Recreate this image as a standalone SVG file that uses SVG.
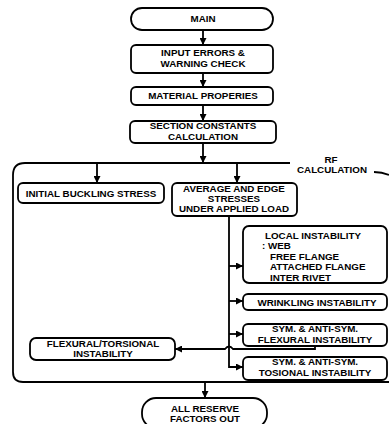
<svg xmlns="http://www.w3.org/2000/svg" width="389" height="424" viewBox="0 0 389 424">
<defs>
<marker id="ah" viewBox="0 0 10 10" refX="10" refY="5" markerWidth="7" markerHeight="7" markerUnits="userSpaceOnUse" orient="auto">
<path d="M0,0 L10,5 L0,10 Z" fill="#000"/>
</marker>
<style>
.b{fill:#fff;stroke:#000;stroke-width:1.8}
.t{font-family:"Liberation Sans",Arial,sans-serif;font-weight:bold;font-size:9.8px;fill:#000;text-anchor:middle}
.l{text-anchor:start}
.c{fill:none;stroke:#000;stroke-width:1.8}
</style>
</defs>
<rect width="389" height="424" fill="#fff"/>
<g id="frame">
<path class="c" d="M290,163 L25,163 Q13,163 13,175 L13,372 Q13,382 23,382 L389,382"/>
<path class="c" d="M374,172 Q382,172 389,175"/>
<text class="t" x="331" y="163">RF</text>
<text class="t" x="332" y="173">CALCULATION</text>
</g>
<g id="connectors">
<line class="c" x1="203" y1="30" x2="203" y2="45" marker-end="url(#ah)"/>
<line class="c" x1="203" y1="73" x2="203" y2="87" marker-end="url(#ah)"/>
<line class="c" x1="203" y1="105" x2="203" y2="121" marker-end="url(#ah)"/>
<line class="c" x1="203" y1="143" x2="203" y2="163" marker-end="url(#ah)"/>
<line class="c" x1="97" y1="163" x2="97" y2="183" marker-end="url(#ah)"/>
<line class="c" x1="237" y1="163" x2="237" y2="183" marker-end="url(#ah)"/>
<path class="c" d="M229,216 L229,367 L243,367" marker-end="url(#ah)"/>
<line class="c" x1="229" y1="266" x2="243" y2="266" marker-end="url(#ah)"/>
<line class="c" x1="229" y1="301" x2="243" y2="301" marker-end="url(#ah)"/>
<line class="c" x1="229" y1="334" x2="243" y2="334" marker-end="url(#ah)"/>
<path class="c" d="M315,346 L315,349 L233,349 Q229,344 225,349 L175,349" marker-end="url(#ah)"/>
<line class="c" x1="205" y1="382" x2="205" y2="398" marker-end="url(#ah)"/>
</g>
<g id="main">
<rect class="b" x="131" y="8" width="142" height="22" rx="11"/>
<text class="t" x="203" y="22">MAIN</text>
</g>
<g id="input">
<rect class="b" x="131" y="45" width="142" height="28" rx="5"/>
<text class="t" x="203" y="56">INPUT ERRORS &amp;</text>
<text class="t" x="203" y="67">WARNING CHECK</text>
</g>
<g id="material">
<rect class="b" x="131" y="87" width="142" height="18" rx="5"/>
<text class="t" x="203" y="99">MATERIAL PROPERIES</text>
</g>
<g id="section">
<rect class="b" x="130" y="121" width="146" height="22" rx="5"/>
<text class="t" x="203" y="129">SECTION CONSTANTS</text>
<text class="t" x="203" y="140">CALCULATION</text>
</g>
<g id="initial">
<rect class="b" x="18" y="183" width="146" height="20" rx="5"/>
<text class="t" x="91" y="197">INITIAL BUCKLING STRESS</text>
</g>
<g id="average">
<rect class="b" x="172" y="183" width="125" height="33" rx="5"/>
<text class="t" x="234" y="192">AVERAGE AND EDGE</text>
<text class="t" x="234" y="202">STRESSES</text>
<text class="t" x="234" y="212">UNDER APPLIED LOAD</text>
</g>
<g id="local">
<rect class="b" x="243" y="226" width="144" height="57" rx="6"/>
<text class="t l" x="265" y="239">LOCAL INSTABILITY</text>
<text class="t l" x="262" y="249">: WEB</text>
<text class="t l" x="270" y="260">FREE FLANGE</text>
<text class="t l" x="270" y="270">ATTACHED FLANGE</text>
<text class="t l" x="270" y="281">INTER RIVET</text>
</g>
<g id="wrinkling">
<rect class="b" x="243" y="294" width="144" height="16" rx="5"/>
<text class="t" x="317" y="306">WRINKLING INSTABILITY</text>
</g>
<g id="symflex">
<rect class="b" x="243" y="324" width="144" height="22" rx="5"/>
<text class="t" x="315" y="332">SYM. &amp; ANTI-SYM.</text>
<text class="t" x="315" y="343">FLEXURAL INSTABILITY</text>
</g>
<g id="symtors">
<rect class="b" x="243" y="357" width="144" height="23" rx="5"/>
<text class="t" x="315" y="365">SYM. &amp; ANTI-SYM.</text>
<text class="t" x="315" y="376">TOSIONAL INSTABILITY</text>
</g>
<g id="flextors">
<rect class="b" x="30" y="338" width="145" height="22" rx="6"/>
<text class="t" x="103" y="347">FLEXURAL/TORSIONAL</text>
<text class="t" x="103" y="357">INSTABILITY</text>
</g>
<g id="allrf">
<rect class="b" x="142" y="398" width="125" height="30" rx="14"/>
<text class="t" x="205" y="412">ALL RESERVE</text>
<text class="t" x="205" y="422">FACTORS OUT</text>
</g>
</svg>
